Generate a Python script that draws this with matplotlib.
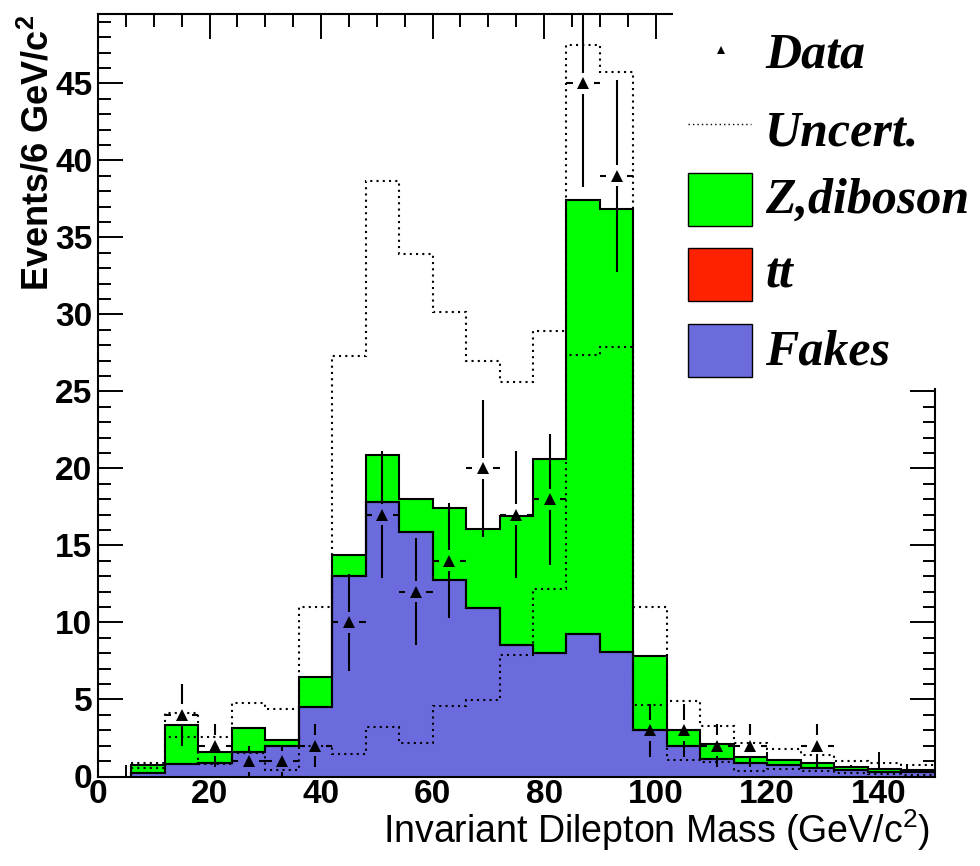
import matplotlib
matplotlib.use("Agg")
import matplotlib.pyplot as plt
import numpy as np
from matplotlib.patches import Rectangle
from matplotlib.lines import Line2D
from matplotlib.ticker import MultipleLocator

plt.rcParams['font.family'] = ['Liberation Sans', 'DejaVu Sans']
plt.rcParams['mathtext.fontset'] = 'custom'
plt.rcParams['mathtext.rm'] = 'Liberation Sans'
plt.rcParams['mathtext.bf'] = 'Liberation Sans:bold'

# dilepton mass bins, 6 GeV/c^2 wide
edges = np.arange(6, 151, 6)

# background components (events per bin), stacked bottom to top
fakes = np.array([0.20, 0.79, 0.90, 1.61, 2.00, 4.49, 13.01, 17.83, 15.89, 12.73, 10.93, 8.53,
                  8.03, 9.25, 8.10, 3.02, 1.98, 1.14, 0.90, 0.75, 0.57, 0.40, 0.31, 0.27])
ttbar = np.zeros(24)
zdiboson = np.array([0.55, 2.55, 0.71, 1.56, 0.37, 1.95, 1.36, 3.07, 2.14, 4.67, 5.11, 8.37,
                     12.55, 28.16, 28.71, 4.78, 1.04, 0.97, 0.38, 0.32, 0.29, 0.20, 0.18, 0.15])

# systematic band on the total prediction
uncert_hi = np.array([0.86, 4.10, 2.54, 4.79, 4.38, 10.98, 27.31, 38.66, 33.89, 30.14, 26.98, 25.62,
                      28.91, 47.51, 45.74, 10.98, 4.92, 3.30, 2.19, 1.78, 1.41, 1.01, 0.86, 0.75])
uncert_lo = np.array([0.53, 2.54, 0.79, 1.51, 0.42, 2.00, 1.46, 3.23, 2.19, 4.60, 4.96, 7.90,
                      12.20, 27.35, 27.89, 4.67, 1.07, 0.96, 0.38, 0.47, 0.38, 0.25, 0.16, 0.12])

# observed counts
data = np.array([0, 4, 2, 1, 1, 2, 10, 17, 12, 14, 20, 17, 18, 45, 39, 3, 3, 2, 2, 0, 2, 0, 0, 0])

c_zdib = '#00ff00'
c_tt = '#ff2200'
c_fakes = '#6b6bde'

W, H = 980, 866
fig = plt.figure(figsize=(W / 100, H / 100), dpi=100)
ax = fig.add_axes([98 / W, 1 - 776.5 / H, 836.5 / W, 762.5 / H])
ax.set_xlim(0, 150)
ax.set_ylim(0, 49.5)
ax.set_axisbelow(True)

# stacked histogram: draw the cumulative sums from the top down
s_fakes = fakes
s_tt = fakes + ttbar
s_all = fakes + ttbar + zdiboson
for vals, col in [(s_all, c_zdib), (s_tt, c_tt), (s_fakes, c_fakes)]:
    ax.stairs(vals, edges, fill=True, facecolor=col, edgecolor='none', zorder=1)
    ax.stairs(vals, edges, baseline=0, color='k', lw=1.5, zorder=2)

dot = (0, (1, 2.0))
ax.stairs(uncert_hi, edges, baseline=None, color='k', lw=1.5, ls=dot, zorder=3)
ax.stairs(uncert_lo, edges, baseline=None, color='k', lw=1.5, ls=dot, zorder=3)

# data points with error bars broken around the marker
xc = 0.5 * (edges[:-1] + edges[1:])
gap = 10.5
gx = gap * 150 / ax.bbox.width
gy = gap * 49.5 / ax.bbox.height
m = data > 0
err = np.sqrt(data)
kw = dict(color='k', lw=1.5, zorder=4)
ax.vlines(xc[m], data[m] + gy, data[m] + err[m], **kw)
ax.vlines(xc[m], data[m] - err[m], data[m] - gy, **kw)
ax.hlines(data[m], edges[:-1][m], xc[m] - gx, **kw)
ax.hlines(data[m], xc[m] + gx, edges[1:][m], **kw)
ax.plot(xc[m], data[m], '^', color='k', ms=8.6, mew=0, ls='none', zorder=5)

# axes styling
ax.xaxis.set_major_locator(MultipleLocator(20))
ax.xaxis.set_minor_locator(MultipleLocator(5))
ax.yaxis.set_major_locator(MultipleLocator(5))
ax.yaxis.set_minor_locator(MultipleLocator(1))
ax.tick_params(which='both', direction='in', top=True, right=True, width=1.4, labelsize=24)
ax.tick_params(which='major', length=18)
ax.tick_params(which='minor', length=9)
ax.tick_params(axis='x', pad=2)
ax.tick_params(axis='y', pad=4)
for sp in ax.spines.values():
    sp.set_linewidth(1.5)
plt.setp(ax.get_xticklabels() + ax.get_yticklabels(), fontweight='bold')

ax.set_xlabel('Invariant Dilepton Mass (GeV/c$^2$)', fontsize=27)
ax.xaxis.label.set_ha('right')
ax.xaxis.label.set_va('baseline')
ax.xaxis.set_label_coords(0.9946, -0.0875)

ax.set_ylabel(r'Events/6 GeV/c$^\mathbf{2}$', fontsize=26, fontweight='bold', loc='top')
ax.yaxis.label.set_va('baseline')
ax.yaxis.set_label_coords(-0.0586, 0.9987)

# legend panel in the upper right corner
def fx(px):
    return px / W

def fy(py):
    return 1 - py / H

fig.add_artist(Rectangle((fx(673), fy(388)), fx(W) - fx(673), fy(0) - fy(388),
                         transform=fig.transFigure, facecolor='white', edgecolor='none', zorder=10))
fig.add_artist(Line2D([fx(721)], [fy(50)], marker='^', ms=5.5, mew=0, color='k', ls='none',
                      transform=fig.transFigure, zorder=11))
fig.add_artist(Line2D([fx(688), fx(751)], [fy(124), fy(124)], color='k', lw=1.0, ls=(0, (1, 2.2)),
                      transform=fig.transFigure, zorder=11))
for top, col in [(173, c_zdib), (248, c_tt), (324, c_fakes)]:
    fig.add_artist(Rectangle((fx(688), fy(top + 53)), fx(752) - fx(688), fy(top) - fy(top + 53),
                             transform=fig.transFigure, facecolor=col, edgecolor='k', lw=1, zorder=11))

leg_labels = ['Data', 'Uncert.', 'Z,diboson', 'tt', 'Fakes']
leg_base = [68, 146, 213, 288, 364]
for lab, b in zip(leg_labels, leg_base):
    fig.text(fx(765), fy(b), lab, family='Liberation Serif', fontweight='bold', fontstyle='italic',
             fontsize=36, ha='left', va='baseline', zorder=12)

fig.savefig('out.png', dpi=100)
